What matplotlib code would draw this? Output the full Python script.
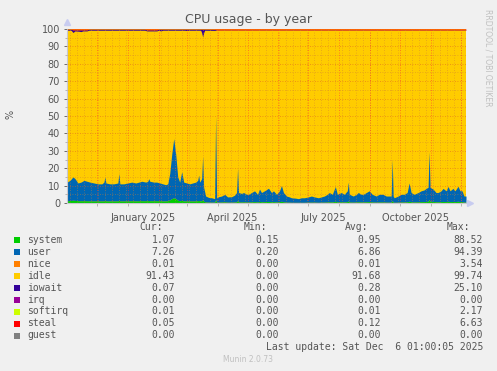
import numpy as np
import matplotlib
matplotlib.use("Agg")
import matplotlib.pyplot as plt

# day offsets from 2024-11-01, graph covers 400 days up to 2025-12-06
start = np.datetime64('2024-11-01')

days = [0, 3, 6, 8, 11, 14, 17, 20, 23, 27, 31, 35, 37, 38, 39, 43, 47, 51, 52, 53,
        57, 61, 65, 69, 72, 75, 79, 81, 82, 83, 87, 90, 93, 96, 99, 101, 103, 105, 107, 109,
        111, 113, 115, 117, 120, 123, 126, 129, 131, 132, 133, 135, 136, 137, 139, 142, 145, 148, 149, 150,
        152, 155, 158, 161, 165, 168, 170, 171, 172, 175, 177, 180, 182, 185, 188, 191, 193, 195, 198, 202,
        205, 207, 210, 213, 215, 217, 220, 223, 225, 229, 232, 235, 238, 242, 245, 248, 252, 255, 258, 261,
        263, 266, 269, 271, 275, 278, 281, 282, 283, 287, 290, 292, 295, 297, 300, 303, 306, 310, 313, 317,
        320, 323, 325, 326, 327, 328, 332, 335, 338, 341, 343, 345, 348, 352, 355, 358, 360, 362, 363, 364,
        367, 370, 372, 375, 377, 380, 382, 384, 387, 389, 392, 394, 396, 398, 400]

# system + user (top of the blue area)
busy = [12, 13, 15, 14, 11.5, 12, 13, 12.5, 12, 11.5, 11, 11, 12, 15, 11.5, 11, 11, 11.5, 17, 11,
        11, 11.5, 12, 11.5, 12, 12.5, 12, 12.5, 14, 12.5, 12, 12, 11.5, 11, 10.5, 11, 17, 28, 37, 28,
        15, 12, 18, 12, 11.5, 11, 11.5, 12, 13, 16, 12, 14, 27, 9, 4, 3.2, 3, 2.5, 50, 3,
        3.6, 4, 5, 3.5, 3.6, 4.5, 6, 20, 6, 5.5, 6, 5, 5, 6, 7, 5, 8, 6, 7, 8.5,
        6, 7, 5, 7, 10, 6, 4, 3.5, 3, 2.8, 2.5, 3, 3, 3.5, 4, 3.5, 3, 3.5, 4, 5,
        6, 5, 9.5, 5, 6, 5, 7, 12, 5, 4, 5, 6, 5, 5, 6, 7, 5, 4, 5, 5,
        4, 4, 4, 25, 4, 3, 4, 5, 5, 6, 11.5, 6, 5, 6, 7, 7.5, 8.4, 9, 29.5, 9,
        8, 6, 6, 7, 8.4, 7, 9.5, 7, 8.4, 7, 9.6, 7, 7, 4, 4]

system = [1.3, 1.4, 1.6, 1.5, 1.3, 1.3, 1.3, 1.3, 1.2, 1.2, 1.2, 1.2, 1.2, 1.4, 1.2, 1.2, 1.2, 1.2, 1.5, 1.2,
          1.2, 1.2, 1.3, 1.2, 1.3, 1.3, 1.3, 1.3, 1.4, 1.3, 1.3, 1.3, 1.3, 1.2, 1.2, 1.3, 1.8, 2.5, 3.0, 2.5,
          1.6, 1.3, 1.5, 1.2, 1.2, 1.2, 1.2, 1.2, 1.3, 1.5, 1.2, 1.3, 2.0, 1.0, 0.6, 0.5, 0.5, 0.5, 2.0, 0.5,
          0.5, 0.6, 0.7, 0.5, 0.5, 0.6, 0.7, 1.5, 0.7, 0.6, 0.7, 0.6, 0.6, 0.7, 0.8, 0.6, 0.9, 0.7, 0.8, 0.9,
          0.7, 0.8, 0.6, 0.8, 1.0, 0.7, 0.5, 0.5, 0.4, 0.4, 0.4, 0.4, 0.4, 0.5, 0.5, 0.5, 0.4, 0.5, 0.5, 0.6,
          0.7, 0.6, 1.0, 0.6, 0.7, 0.6, 0.8, 1.2, 0.6, 0.5, 0.6, 0.7, 0.6, 0.6, 0.7, 0.8, 0.6, 0.5, 0.6, 0.6,
          0.5, 0.5, 0.5, 1.5, 0.5, 0.4, 0.5, 0.6, 0.6, 0.7, 1.0, 0.7, 0.6, 0.7, 0.8, 0.8, 0.9, 1.0, 2.0, 1.0,
          0.9, 0.7, 0.7, 0.8, 0.9, 0.8, 1.0, 0.8, 0.9, 0.8, 1.0, 0.8, 0.8, 0.5, 0.5]

# top of the stack, drawn down from 100 %
top_days = [0, 4, 6, 8, 12, 14, 16, 20, 22, 60, 78, 80, 90, 92, 94, 96, 118, 120, 122,
            134, 135, 136, 137, 138, 148, 150, 400]
iowait = [0.6, 0.6, 1.5, 0.6, 0.8, 1.0, 0.6, 0.6, 0.6, 0.6, 0.6, 0.6, 0.6, 0.6, 1.0, 0.6, 0.6, 0.8, 0.6,
          0.6, 2.0, 4.5, 2.0, 0.6, 0.6, 0.15, 0.15]
steal = [0.1, 0.1, 0.5, 0.5, 0.5, 0.5, 0.5, 0.5, 0.1, 0.1, 0.1, 0.5, 0.5, 0.1, 0.1, 0.1, 0.1, 0.1, 0.1,
         0.1, 0.1, 0.1, 0.1, 0.1, 0.2, 0.5, 0.5]

names = ["system", "user", "nice", "idle", "iowait", "irq", "softirq", "steal", "guest"]
colors = ["#00CC00", "#0066B3", "#FF8000", "#FFCC00", "#330099", "#990099", "#CCFF00", "#FF0000", "#808080"]
cur = ["1.07", "7.26", "0.01", "91.43", "0.07", "0.00", "0.01", "0.05", "0.00"]
mins = ["0.15", "0.20", "0.00", "0.00", "0.00", "0.00", "0.00", "0.00", "0.00"]
avgs = ["0.95", "6.86", "0.01", "91.68", "0.28", "0.00", "0.01", "0.12", "0.00"]
maxs = ["88.52", "94.39", "3.54", "99.74", "25.10", "0.00", "2.17", "6.63", "0.00"]

label_months = ['2025-01', '2025-04', '2025-07', '2025-10']
label_text = ["January 2025", "April 2025", "July 2025", "October 2025"]

W, H = 497, 371
bg = "#F0F0F0"
txt = "#555555"

fig = plt.figure(figsize=(W / 100, H / 100), dpi=100, facecolor=bg)
ax = fig.add_axes([67 / W, 1 - 203 / H, (466 - 67) / W, (203 - 29) / H])
ax.set_facecolor("#FFCC00")

d = np.array(days, dtype=float)
b = np.array(busy)
s = np.array(system)
td = np.array(top_days, dtype=float)
io = np.array(iowait)
st = np.array(steal)

ax.fill_between(d, 0, s, color=colors[0], lw=0, zorder=2)
ax.fill_between(d, s, b, color=colors[1], lw=0, zorder=2)
ax.fill_between(td, 100 - st - io, 100 - st, color=colors[4], lw=0, zorder=2)
ax.fill_between(td, 100 - st, 100, color=colors[7], lw=0, zorder=2)

ax.set_xlim(0, 400)
ax.set_ylim(0, 100)

# grid: weekly minor, monthly major
months = np.arange(np.datetime64('2024-11'), np.datetime64('2026-01'))
month_days = [(m.astype('datetime64[D]') - start).astype(int) for m in months]
for x in range(3, 400, 7):
    ax.axvline(x, color="#D08030", lw=0.6, ls=(0, (1, 2)), alpha=0.6, zorder=3)
for x in month_days:
    if 0 < x < 400:
        ax.axvline(x, color="#FF3030", lw=0.6, ls=(0, (1, 2)), alpha=0.7, zorder=3)
for y in range(5, 100, 10):
    ax.axhline(y, color="#D08030", lw=0.6, ls=(0, (1, 2)), alpha=0.6, zorder=3)
for y in range(10, 101, 10):
    ax.axhline(y, color="#E06020", lw=0.6, ls=(0, (1, 2)), alpha=0.7, zorder=3)

ax.set_yticks(range(0, 101, 10))
ax.set_yticks(range(5, 100, 10), minor=True)
ax.set_xticks([x for x in month_days if 0 < x < 400])
ax.set_xticklabels([])
lab_pos = [(np.datetime64(m + '-01') - start).astype(int) + 15 for m in label_months]
for p, t in zip(lab_pos, label_text):
    ax.text(p, -6, t, ha="center", va="top", fontsize=7, color=txt)
ax.tick_params(axis="y", labelsize=7, colors=txt, length=2, pad=3, width=0.6)
ax.tick_params(axis="y", which="minor", length=1.5, color="#aaaaaa")
ax.tick_params(axis="x", length=2, color="#aaaaaa", width=0.6)
for lbl in ax.get_yticklabels():
    lbl.set_color(txt)
for sp in ["top", "right"]:
    ax.spines[sp].set_visible(False)
for sp in ["left", "bottom"]:
    ax.spines[sp].set_color("#c8c8d0")
    ax.spines[sp].set_linewidth(0.8)

ax.plot([0], [1.04], marker="^", ms=4, color="#c8ccf0", transform=ax.transAxes, clip_on=False)
ax.plot([1.01], [0], marker=">", ms=4, color="#c8ccf0", transform=ax.transAxes, clip_on=False)

def fx(x):
    return x / W

def fy(y):
    return 1 - y / H

fig.text(fx(249), fy(19), "CPU usage - by year", ha="center", va="center", fontsize=9, color=txt)
fig.text(fx(10), fy(114), "%", ha="center", va="center", rotation=90, fontsize=7, color=txt)
fig.text(fx(488), fy(58), "RRDTOOL / TOBI OETIKER", ha="center", va="center", rotation=270,
         fontsize=5.5, color="#c0c0c0")

mono = "DejaVu Sans Mono"
fs = 7
fig.text(fx(163), fy(227), "Cur:", ha="right", va="center", family=mono, fontsize=fs, color=txt)
fig.text(fx(267), fy(227), "Min:", ha="right", va="center", family=mono, fontsize=fs, color=txt)
fig.text(fx(368), fy(227), "Avg:", ha="right", va="center", family=mono, fontsize=fs, color=txt)
fig.text(fx(470), fy(227), "Max:", ha="right", va="center", family=mono, fontsize=fs, color=txt)

row_y = [240, 252, 264, 276, 288, 300, 311.5, 323.5, 335.5]
for i, n in enumerate(names):
    y = row_y[i]
    fig.patches.append(plt.Rectangle((fx(14), fy(y + 3)), 6 / W, 6 / H, transform=fig.transFigure,
                                     facecolor=colors[i], edgecolor="none"))
    fig.text(fx(27), fy(y), n, ha="left", va="center", family=mono, fontsize=fs, color=txt)
    fig.text(fx(175), fy(y), cur[i], ha="right", va="center", family=mono, fontsize=fs, color=txt)
    fig.text(fx(279), fy(y), mins[i], ha="right", va="center", family=mono, fontsize=fs, color=txt)
    fig.text(fx(381), fy(y), avgs[i], ha="right", va="center", family=mono, fontsize=fs, color=txt)
    fig.text(fx(483), fy(y), maxs[i], ha="right", va="center", family=mono, fontsize=fs, color=txt)

fig.text(fx(483), fy(347.5), "Last update: Sat Dec  6 01:00:05 2025", ha="right", va="center",
         family=mono, fontsize=fs, color=txt)
fig.text(fx(248), fy(360), "Munin 2.0.73", ha="center", va="center", fontsize=5.5, color="#c0c0c0")

fig.savefig("out.png", dpi=100, facecolor=bg)
